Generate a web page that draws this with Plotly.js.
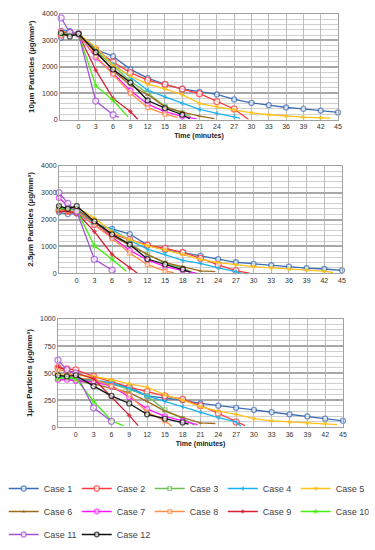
<!DOCTYPE html>
<html><head><meta charset="utf-8">
<script src="https://cdn.plot.ly/plotly-3.0.1.min.js"></script>
<style>html,body{margin:0;padding:0;background:#fff}#chart{width:375px;height:550px}</style>
</head><body><div id="chart"></div>
<script>
// Time points (minutes); first two are pre-zero samples without labels
const times = [-3, -1.5, 0, 3, 6, 9, 12, 15, 18, 21, 24, 27, 30, 33, 36, 39, 42, 45];
const tickTimes = [0, 3, 6, 9, 12, 15, 18, 21, 24, 27, 30, 33, 36, 39, 42, 45];
const caseNames = ['Case 1','Case 2','Case 3','Case 4','Case 5','Case 6','Case 7','Case 8','Case 9','Case 10','Case 11','Case 12'];

// 10 µm particles
const p10_c1  = [3100, 3350, 3250, 2650, 2400, 1900, 1570, 1330, 1160, 1050, 950, 760, 630, 545, 455, 405, 340, 270];
const p10_c2  = [3200, 3300, 3250, 2650, 2180, 1780, 1490, 1330, 1150, 980, 680, 400];
const p10_c3  = [3300, 3250, 3250, 2600, 2050, 1450, 1000, 500, 250];
const p10_c4  = [3400, 3350, 3250, 2700, 2100, 1600, 1110, 860, 610, 380, 230, 100];
const p10_c5  = [3300, 3300, 3250, 2750, 2050, 1650, 1340, 1160, 940, 610, 480, 370, 250, 180, 130, 90, 65];
const p10_c6  = [3200, 3200, 3250, 2600, 1850, 1300, 950, 480, 280, 130];
const p10_c7  = [3350, 3300, 3250, 2350, 1750, 1100, 580, 300, 120];
const p10_c8  = [3350, 3300, 3250, 2400, 1720, 1000, 450, 200];
const p10_c9  = [3300, 3250, 3250, 1870, 800, 300];
const p10_c10 = [3250, 3250, 3250, 1280, 730];
const p10_c11 = [3850, 3300, 3250, 700, 180];
const p10_c12 = [3280, 3150, 3250, 2550, 1900, 1400, 720, 430, 180];
const p10_endT = [null, 29.5, 19.5, 28, 43.7, 23.6, 20.5, 17.2, 10.3, 8.6, 7.0, 19.3];
const p10_endV = [null, 0, 100, 50, 50, 30, 20, 80, 0, 100, 80, 30];

// 2.5 µm particles
const p25_c1  = [2270, 2200, 2230, 1830, 1650, 1460, 1050, 870, 770, 660, 530, 410, 350, 300, 250, 190, 160, 110];
const p25_c2  = [2350, 2300, 2250, 1920, 1460, 1250, 1050, 930, 780, 560, 310, 100];
const p25_c3  = [2450, 2400, 2350, 1900, 1450, 1100, 700, 380, 180];
const p25_c4  = [2400, 2400, 2350, 1850, 1630, 1230, 900, 700, 480, 370, 200, 60];
const p25_c5  = [2450, 2450, 2450, 2050, 1550, 1250, 1020, 870, 700, 520, 400, 320, 250, 200, 150, 120, 80];
const p25_c6  = [2400, 2350, 2400, 1900, 1400, 1050, 700, 400, 240, 90];
const p25_c7  = [2800, 2500, 2300, 1800, 1350, 850, 500, 250, 100];
const p25_c8  = [2350, 2300, 2300, 1800, 1300, 750, 320, 80];
const p25_c9  = [2300, 2300, 2250, 1550, 700, 200];
const p25_c10 = [2450, 2400, 2350, 1020, 530];
const p25_c11 = [3000, 2600, 2300, 520, 120];
const p25_c12 = [2500, 2400, 2500, 1930, 1450, 1070, 530, 330, 150];
const p25_endT = [null, 29.4, 19.5, 28, 43.5, 23.5, 20.3, 16.5, 10.3, 8.4, 6.6, 19.3];
const p25_endV = [null, 0, 50, 0, 30, 60, 10, 20, 0, 80, 50, 40];

// 1 µm particles
const p1_c1  = [470, 460, 440, 430, 400, 370, 290, 270, 250, 220, 200, 180, 160, 140, 120, 100, 80, 60];
const p1_c2  = [550, 540, 530, 470, 420, 370, 330, 290, 260, 200, 130, 50];
const p1_c3  = [450, 460, 450, 430, 400, 350, 290, 160, 80];
const p1_c4  = [470, 460, 450, 440, 410, 360, 290, 240, 190, 140, 90, 50];
const p1_c5  = [490, 480, 480, 470, 440, 400, 370, 300, 250, 190, 150, 120, 80, 60, 50, 40, 35];
const p1_c6  = [440, 440, 430, 400, 360, 320, 240, 150, 90, 40];
const p1_c7  = [440, 440, 430, 420, 380, 280, 170, 100, 60];
const p1_c8  = [530, 520, 450, 450, 380, 300, 140, 60];
const p1_c9  = [560, 520, 500, 450, 280, 110];
const p1_c10 = [450, 460, 450, 240, 60];
const p1_c11 = [620, 530, 500, 180, 55];
const p1_c12 = [480, 470, 480, 380, 290, 220, 120, 80, 45];
const p1_endT = [null, 28.5, 20, 27.8, 44, 23.5, 20.5, 16.2, 10.5, 8, null, 19];
const p1_endV = [null, 15, 20, 10, 25, 35, 25, 10, 15, 15, null, 30];

const p10 = [p10_c1,p10_c2,p10_c3,p10_c4,p10_c5,p10_c6,p10_c7,p10_c8,p10_c9,p10_c10,p10_c11,p10_c12];
const p25 = [p25_c1,p25_c2,p25_c3,p25_c4,p25_c5,p25_c6,p25_c7,p25_c8,p25_c9,p25_c10,p25_c11,p25_c12];
const p1  = [p1_c1,p1_c2,p1_c3,p1_c4,p1_c5,p1_c6,p1_c7,p1_c8,p1_c9,p1_c10,p1_c11,p1_c12];

// styles
const styles = [
  {c:'#3D6DB5', s:'circle', open:true, sz:5},
  {c:'#FF3B3B', s:'circle', open:true, sz:6},
  {c:'#6FBF59', s:'square', open:true, sz:4},
  {c:'#19B4F0', s:'triangle-left', open:false, sz:5},
  {c:'#FFC21A', s:'circle', open:false, sz:4},
  {c:'#9C6B1E', s:'triangle-up', open:false, sz:4},
  {c:'#FF1AFF', s:'circle', open:true, sz:5},
  {c:'#FF8C40', s:'square', open:true, sz:4},
  {c:'#D62035', s:'diamond', open:false, sz:4},
  {c:'#44EE11', s:'star', open:false, sz:6},
  {c:'#A455D8', s:'circle', open:true, sz:6},
  {c:'#111111', s:'circle', open:true, sz:5}
];

const traces = [];
function addSet(data, endT, endV, xa, ya, showLegend) {
  data.forEach((vals, i) => {
    const st = styles[i];
    const x = times.slice(0, vals.length);
    const y = vals.slice();
    const sizes = vals.map(() => st.sz);
    if (endT[i] !== null) { x.push(endT[i]); y.push(endV[i]); sizes.push(0); }
    traces.push({
      type:'scatter', mode:'lines+markers', x:x, y:y, xaxis:xa, yaxis:ya,
      name: caseNames[i], legendgroup: caseNames[i], showlegend: showLegend,
      line:{color:st.c, width:1.3},
      marker:{symbol:st.s, size:sizes, color: st.open ? '#ffffff' : st.c,
              line:{color:st.c, width: st.open ? 1.3 : 0}},
      cliponaxis: false
    });
  });
}
addSet(p10, p10_endT, p10_endV, 'x', 'y', true);
addSet(p25, p25_endT, p25_endV, 'x2', 'y2', false);
addSet(p1, p1_endT, p1_endV, 'x3', 'y3', false);

const F = 'Liberation Sans, Arial, sans-serif';
function xax(anchor, domain, range, title) {
  return {anchor: anchor, domain: domain, range: range, tickmode:'array', tickvals: tickTimes,
    ticktext: tickTimes.map(String), showgrid:true, gridcolor:'#bdbdbd', gridwidth:1,
    zeroline:false, showline:true, linecolor:'#a0a0a0', linewidth:1, mirror:true,
    ticks:'', tickfont:{family:F, size:7, color:'#333'},
    title: title ? {text:'<b>'+title+'</b>', font:{family:F, size:7, color:'#222'}, standoff:4} : {text:''}};
}
function yax(anchor, domain, range, dtick, minor, title) {
  return {anchor: anchor, domain: domain, range: range, dtick: dtick, tick0:0, showgrid:true,
    gridcolor:'#a8a8a8', gridwidth:2, zeroline:false, showline:true, linecolor:'#a0a0a0',
    linewidth:1, mirror:true, ticks:'', tickfont:{family:F, size:7, color:'#333'},
    minor:{dtick: minor, showgrid:true, gridcolor:'#d0d0d0', gridwidth:1},
    title:{text:'<b>'+title+'</b>', font:{family:F, size:8, color:'#222'}, standoff:6}};
}

const layout = {
  width:375, height:550, margin:{l:0, r:0, t:0, b:0},
  paper_bgcolor:'#fff', plot_bgcolor:'#fff', font:{family:F},
  xaxis:  xax('y',  [60/375, 338/375], [-3.2, 45], 'Time (minutes)'),
  yaxis:  yax('x',  [1-119.5/550, 1-14/550], [0, 4000], 1000, 200, '10µm Particles (µg/mm³)'),
  xaxis2: xax('y2', [59/375, 342/375], [-3, 45], null),
  yaxis2: yax('x2', [1-273.3/550, 1-165.7/550], [0, 4000], 1000, 200, '2.5µm Particles (µg/mm³)'),
  xaxis3: xax('y3', [58/375, 343/375], [-3, 45], 'Time (minutes)'),
  yaxis3: yax('x3', [1-427.3/550, 1-319/550], [0, 1000], 250, 50, '1µm Particles (µg/mm³)'),
  showlegend:true,
  legend:{orientation:'h', x:0.01, y:1-474/550, xanchor:'left', yanchor:'top',
    entrywidth:28, entrywidthmode:'pixels', itemwidth:30,
    font:{family:F, size:9, color:'#444'}, tracegroupgap:4, bgcolor:'rgba(0,0,0,0)'}
};
Plotly.newPlot('chart', traces, layout, {displayModeBar:false, staticPlot:true});
</script></body></html>
